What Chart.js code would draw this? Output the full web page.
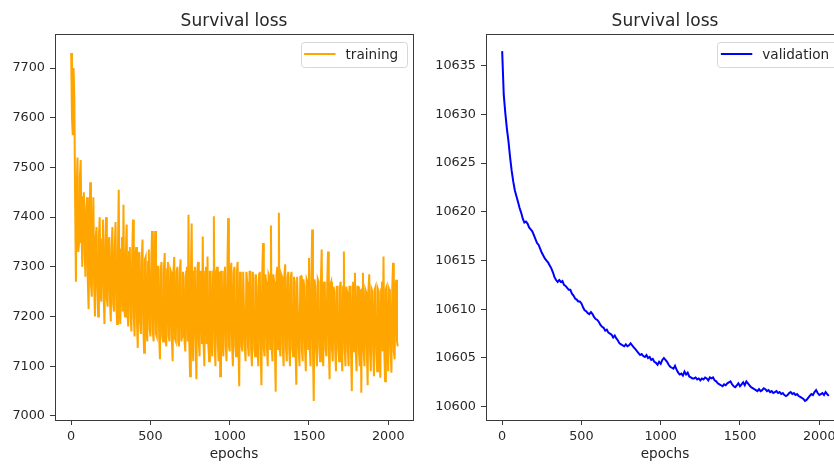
<!DOCTYPE html>
<html>
<head>
<meta charset="utf-8">
<script src="https://cdn.jsdelivr.net/npm/chart.js@4.4.1/dist/chart.umd.min.js"></script>
<style>
  html, body { margin: 0; padding: 0; background: #fff; overflow: hidden; }
  #wrap { position: relative; width: 834px; height: 466px; overflow: hidden; }
  #chart-training { position: absolute; left: 0; top: 0; }
  #chart-validation { position: absolute; left: 420px; top: 0; }
</style>
</head>
<body>
<div id="wrap">
  <canvas id="chart-training" width="420" height="466"></canvas>
  <canvas id="chart-validation" width="440" height="466"></canvas>
</div>
<script>
// training loss logged every 5 epochs, validation every 10
const trainStep = 5;
const valStep = 10;

const trainLoss = [
  7730, 7600, 7565, 7700, 7640, 7430, 7270, 7460, 7520, 7330, 7350, 7480, 7515, 7380, 7300, 7440, 7450, 7330, 7280, 7420,
  7440, 7270, 7215, 7370, 7470, 7265, 7240, 7365, 7440, 7260, 7200, 7360, 7380, 7255, 7200, 7360, 7400, 7250, 7230, 7355,
  7395, 7240, 7185, 7350, 7400, 7235, 7220, 7345, 7360, 7230, 7190, 7340, 7380, 7225, 7210, 7340, 7390, 7220, 7185, 7335,
  7455, 7215, 7185, 7335, 7360, 7210, 7425, 7215, 7200, 7330, 7385, 7205, 7180, 7330, 7340, 7200, 7170, 7325, 7395, 7200,
  7160, 7320, 7340, 7190, 7137, 7320, 7330, 7185, 7165, 7315, 7355, 7180, 7127, 7315, 7320, 7180, 7150, 7310, 7335, 7175,
  7160, 7305, 7372, 7170, 7150, 7300, 7372, 7165, 7160, 7300, 7300, 7160, 7114, 7295, 7310, 7160, 7150, 7295, 7328, 7160,
  7140, 7295, 7310, 7160, 7150, 7295, 7290, 7155, 7110, 7290, 7320, 7155, 7150, 7290, 7300, 7150, 7140, 7290, 7315, 7150,
  7160, 7290, 7280, 7150, 7130, 7290, 7300, 7150, 7405, 7150, 7080, 7290, 7387, 7150, 7110, 7290, 7300, 7150, 7074, 7290,
  7310, 7150, 7120, 7290, 7290, 7145, 7361, 7145, 7100, 7290, 7300, 7145, 7321, 7145, 7110, 7290, 7290, 7145, 7120, 7290,
  7402, 7145, 7100, 7290, 7300, 7145, 7110, 7290, 7080, 7290, 7290, 7140, 7120, 7290, 7300, 7140, 7110, 7290, 7398, 7140,
  7130, 7290, 7308, 7140, 7100, 7290, 7300, 7140, 7120, 7290, 7310, 7140, 7060, 7290, 7280, 7140, 7130, 7290, 7290, 7140,
  7110, 7290, 7270, 7140, 7120, 7290, 7290, 7135, 7100, 7290, 7280, 7135, 7120, 7285, 7260, 7135, 7100, 7285, 7290, 7135,
  7062, 7285, 7348, 7135, 7120, 7285, 7270, 7135, 7100, 7285, 7280, 7135, 7383, 7135, 7110, 7285, 7270, 7135, 7049, 7285,
  7300, 7135, 7409, 7135, 7120, 7285, 7280, 7135, 7100, 7285, 7305, 7135, 7110, 7280, 7290, 7135, 7100, 7280, 7290, 7135,
  7120, 7280, 7270, 7135, 7063, 7280, 7280, 7135, 7100, 7280, 7281, 7135, 7110, 7275, 7260, 7135, 7090, 7275, 7270, 7135,
  7318, 7135, 7100, 7275, 7375, 7135, 7030, 7275, 7260, 7135, 7100, 7275, 7270, 7135, 7110, 7270, 7335, 7135, 7100, 7270,
  7260, 7135, 7120, 7265, 7331, 7135, 7074, 7265, 7270, 7135, 7110, 7260, 7250, 7135, 7090, 7260, 7260, 7135, 7110, 7260,
  7270, 7135, 7090, 7260, 7331, 7135, 7100, 7260, 7250, 7130, 7100, 7260, 7260, 7130, 7050, 7260, 7270, 7130, 7288, 7130,
  7090, 7260, 7260, 7130, 7100, 7255, 7047, 7255, 7288, 7130, 7100, 7255, 7250, 7130, 7062, 7255, 7285, 7130, 7090, 7255,
  7250, 7130, 7080, 7255, 7260, 7130, 7090, 7255, 7250, 7130, 7077, 7255, 7270, 7130, 7321, 7130, 7070, 7255, 7260, 7130,
  7090, 7255, 7250, 7130, 7087, 7255, 7308, 7130, 7114, 7260, 7274, 7150, 7140
];

const valLoss = [
  10636.5, 10632.0, 10630.1, 10628.5, 10627.2, 10625.6, 10624.2, 10623.1, 10622.2, 10621.6,
  10621.0, 10620.4, 10619.9, 10619.3, 10618.9, 10619.0, 10618.8, 10618.4, 10618.2, 10618.0,
  10617.6, 10617.2, 10616.8, 10616.6, 10616.2, 10615.8, 10615.5, 10615.2, 10615.0, 10614.8,
  10614.5, 10614.2, 10613.8, 10613.3, 10613.0, 10612.8, 10613.0, 10612.8, 10612.9, 10612.5,
  10612.4, 10612.2, 10612.0, 10612.0, 10611.6, 10611.4, 10611.1, 10611.0, 10610.8, 10610.8,
  10610.6, 10610.2, 10609.9, 10609.8, 10609.6, 10609.5, 10609.7, 10609.5, 10609.2, 10609.0,
  10608.9, 10608.7, 10608.4, 10608.2, 10608.1, 10607.8, 10607.9, 10607.6, 10607.5, 10607.4,
  10607.1, 10607.3, 10607.0, 10606.8, 10606.5, 10606.4, 10606.3, 10606.2, 10606.4, 10606.2,
  10606.3, 10606.5, 10606.3, 10606.1, 10605.9, 10605.7, 10605.5, 10605.3, 10605.4, 10605.2,
  10605.1, 10605.3, 10605.0, 10605.1, 10604.8, 10604.9, 10604.6, 10604.5, 10604.3, 10604.6,
  10604.4, 10604.8, 10605.0, 10604.8, 10604.6, 10604.3, 10604.1, 10604.0, 10603.9, 10604.2,
  10603.8, 10603.5, 10603.3, 10603.4, 10603.2, 10603.6, 10603.3, 10603.5, 10603.1, 10603.0,
  10602.9, 10602.9, 10603.0, 10602.8, 10602.9, 10602.7, 10602.9, 10602.8, 10603.0, 10602.9,
  10602.7, 10603.0, 10602.9, 10603.0, 10602.7, 10602.6, 10602.4, 10602.3, 10602.2, 10602.1,
  10602.3, 10602.2, 10602.4, 10602.5, 10602.6, 10602.3, 10602.1, 10602.0, 10602.2, 10602.4,
  10602.1, 10602.3, 10602.5, 10602.2, 10602.6, 10602.4, 10602.2, 10602.0, 10601.9, 10601.8,
  10601.7, 10601.6, 10601.8, 10601.6, 10601.7, 10601.9, 10601.8, 10601.6, 10601.7, 10601.5,
  10601.6, 10601.4, 10601.5, 10601.6, 10601.4, 10601.5, 10601.3, 10601.4, 10601.2, 10601.1,
  10601.2, 10601.4, 10601.5, 10601.3, 10601.4, 10601.2, 10601.3, 10601.1, 10601.0, 10600.9,
  10600.8, 10600.6, 10600.7, 10600.9, 10601.1, 10601.3, 10601.2, 10601.5, 10601.7, 10601.4,
  10601.2, 10601.3, 10601.4, 10601.2, 10601.5, 10601.3, 10601.1
];

const epochTicks = [0, 500, 1000, 1500, 2000];
const trainTicks = [7000, 7100, 7200, 7300, 7400, 7500, 7600, 7700];
const valTicks = [10600, 10605, 10610, 10615, 10620, 10625, 10630, 10635];

const FONT = '"DejaVu Sans", sans-serif';
const TEXT = '#262626';
const AXIS = '#3a3a3a';

const toPoints = (values, step) => values.map((v, i) => ({ x: i * step, y: v }));

// four spines around the plot area, drawn over the line like matplotlib
const axesFrame = {
  id: 'axesFrame',
  afterDatasetsDraw(chart) {
    const { ctx, chartArea: a } = chart;
    ctx.save();
    ctx.strokeStyle = AXIS;
    ctx.lineWidth = 1;
    ctx.strokeRect(a.left + 0.5, a.top + 0.5, a.right - a.left, a.bottom - a.top);
    ctx.restore();
  }
};

// framed legend in the upper right corner
const boxLegend = {
  id: 'boxLegend',
  afterDraw(chart) {
    const { ctx, chartArea: a } = chart;
    const ds = chart.data.datasets[0];
    ctx.save();
    ctx.font = '13.6px ' + FONT;
    const tw = ctx.measureText(ds.label).width;
    const w = 45 + tw + 8.5;
    const h = 25;
    const x = a.right - 6.3 - w;
    const y = a.top + 8.3;
    ctx.beginPath();
    ctx.roundRect(Math.round(x) + 0.5, Math.round(y) + 0.5, Math.round(w), h, 3);
    ctx.fillStyle = 'rgba(255,255,255,0.8)';
    ctx.fill();
    ctx.strokeStyle = '#d6d6d6';
    ctx.lineWidth = 1;
    ctx.stroke();
    ctx.beginPath();
    ctx.moveTo(x + 3.6, y + 11.7);
    ctx.lineTo(x + 35, y + 11.7);
    ctx.strokeStyle = ds.borderColor;
    ctx.lineWidth = ds.borderWidth;
    ctx.stroke();
    ctx.fillStyle = TEXT;
    ctx.textBaseline = 'alphabetic';
    ctx.fillText(ds.label, x + 45, y + 16.2);
    ctx.restore();
  }
};

function makeChart(id, label, color, points, yMin, yMax, yTicks, yWidth, padRight) {
  return new Chart(document.getElementById(id), {
    type: 'line',
    data: {
      datasets: [{
        label: label,
        data: points,
        borderColor: color,
        borderWidth: 2,
        pointRadius: 0,
        tension: 0,
        fill: false
      }]
    },
    options: {
      responsive: false,
      animation: false,
      events: [],
      layout: { padding: { left: 0, right: padRight, top: 0, bottom: 0 } },
      plugins: {
        legend: { display: false },
        tooltip: { enabled: false },
        title: {
          display: true,
          text: 'Survival loss',
          fullSize: false,
          color: TEXT,
          font: { family: FONT, size: 17, weight: 'normal' },
          padding: { top: 11, bottom: 2.6 }
        }
      },
      scales: {
        x: {
          type: 'linear',
          min: -102,
          max: 2156,
          afterBuildTicks: (s) => { s.ticks = epochTicks.map(v => ({ value: v })); },
          afterFit: (s) => { s.height = 46; },
          border: { display: false },
          grid: { drawOnChartArea: false, drawTicks: true, tickLength: 5, tickColor: AXIS, tickWidth: 1 },
          ticks: {
            color: TEXT,
            font: { family: FONT, size: 12.8 },
            padding: 4,
            maxRotation: 0,
            autoSkip: false,
            callback: (v) => String(v)
          },
          title: {
            display: true,
            text: 'epochs',
            color: TEXT,
            font: { family: FONT, size: 13.6 },
            padding: { top: 0, bottom: 3 }
          }
        },
        y: {
          type: 'linear',
          min: yMin,
          max: yMax,
          afterBuildTicks: (s) => { s.ticks = yTicks.map(v => ({ value: v })); },
          afterFit: (s) => { s.width = yWidth; },
          border: { display: false },
          grid: { drawOnChartArea: false, drawTicks: true, tickLength: 5, tickColor: AXIS, tickWidth: 1 },
          ticks: {
            color: TEXT,
            font: { family: FONT, size: 12.8 },
            padding: 5,
            autoSkip: false,
            callback: (v) => String(v)
          }
        }
      }
    },
    plugins: [axesFrame, boxLegend]
  });
}

makeChart('chart-training', 'training', '#ffa500', toPoints(trainLoss, trainStep),
  6991.95, 7768.4, trainTicks, 55, 7);
makeChart('chart-validation', 'validation', '#0000ff', toPoints(valLoss, valStep),
  10598.635, 10638.254, valTicks, 66, 16);
</script>
</body>
</html>
